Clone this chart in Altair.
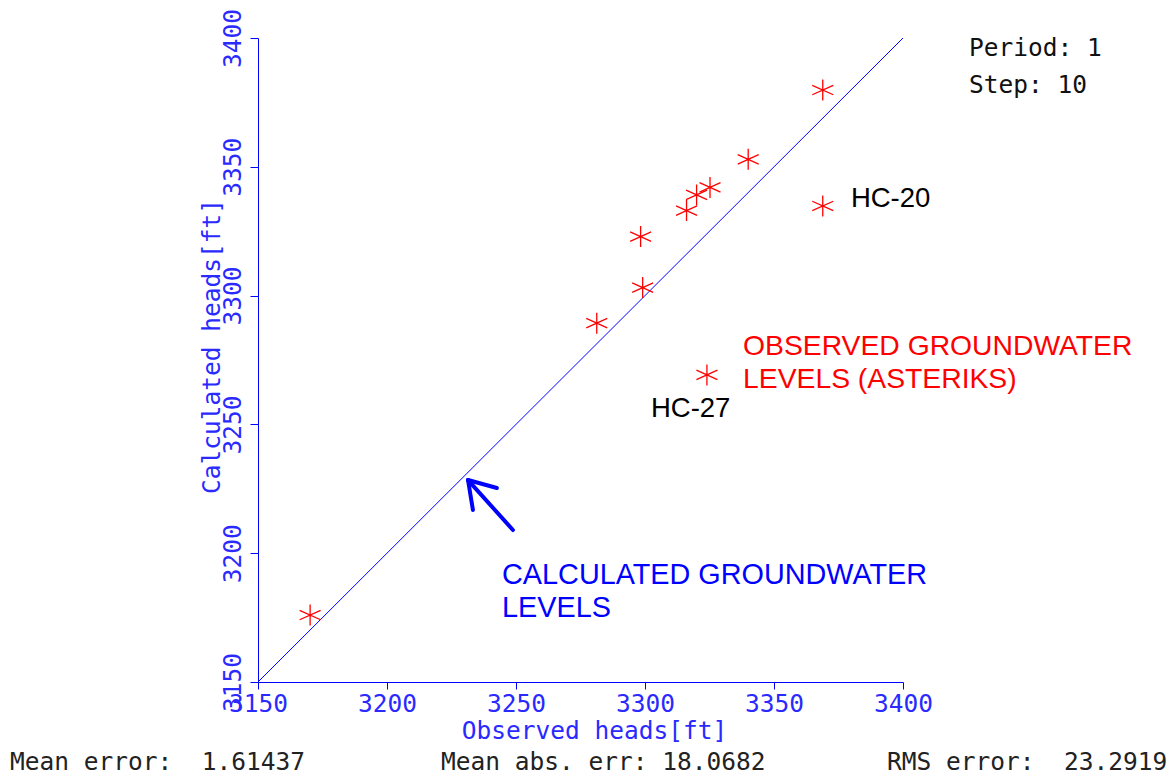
import altair as alt
import pandas as pd

# Observed vs calculated heads (ft)
obs_heads = [3170.2, 3281.3, 3298.3, 3299.1, 3316.1, 3320.0, 3325.2, 3340.0, 3368.9, 3368.9, 3324.0]
calc_heads = [3176.0, 3289.3, 3322.9, 3303.1, 3333.0, 3339.1, 3342.0, 3352.9, 3379.8, 3334.8, 3269.2]

tick_values = [3150, 3200, 3250, 3300, 3350, 3400]
line_ends = [3150, 3400]

NB = "\u00a0"
stat_texts = ["Mean error:" + NB + NB + "1.61437",
              "Mean abs." + NB + "err:" + NB + "18.0682",
              "RMS error:" + NB + NB + "23.2919"]
info_texts = ["Period:" + NB + "1", "Step:" + NB + "10"]

# annotation labels (data coordinates)
ann_text = ["HC-20", "HC-27"]
ann_x = [3379.8, 3302.3]
ann_y = [3337.5, 3256.0]

obs_caption = ["OBSERVED GROUNDWATER", "LEVELS (ASTERIKS)"]
obs_cap_x = [3338.0, 3338.0]
obs_cap_y = [3280.0, 3267.2]

calc_caption = ["CALCULATED GROUNDWATER", "LEVELS"]
calc_cap_x = [3244.6, 3244.6]
calc_cap_y = [3191.5, 3178.7]

arrow_x = [3248.8, 3231.4, 3231.4]
arrow_y = [3209.0, 3228.4, 3228.4]
arrow_x2 = [3231.4, 3242.6, 3233.3]
arrow_y2 = [3228.4, 3225.3, 3216.8]

MONO = "DejaVu Sans Mono"
SANS = "Liberation Sans"
BLUE = "#0000ff"
LBLUE = "#2a2aff"
MS = 24.5

W, H = 645, 644

xscale = alt.Scale(domain=[3150, 3400], nice=False, zero=False)
yscale = alt.Scale(domain=[3150, 3400], nice=False, zero=False)

xaxis = alt.Axis(
    values=tick_values, format="d", grid=False, title="Observed heads[ft]",
    domainColor=BLUE, tickColor=BLUE, tickSize=7, labelColor=LBLUE,
    labelFont=MONO, labelFontSize=MS, labelPadding=3, labelFlush=False,
    labelOverlap=False, titleFont=MONO, titleFontSize=MS, titleFontWeight="normal",
    titleColor=LBLUE, titleX=336, titleY=49, titleBaseline="middle", titleAlign="center",
)
yaxis = alt.Axis(
    values=tick_values, format="d", grid=False, title="Calculated heads[ft]",
    domainColor=BLUE, tickColor=BLUE, tickSize=8, labelColor=LBLUE,
    labelFont=MONO, labelFontSize=MS, labelPadding=5, labelFlush=False,
    labelOverlap=False, labelAngle=270, labelAlign="center", labelBaseline="bottom",
    titleFont=MONO, titleFontSize=MS, titleFontWeight="normal", titleColor=LBLUE,
    titleAngle=270, titleX=-46, titleY=308, titleBaseline="middle", titleAlign="center",
)

line_df = pd.DataFrame({"x": line_ends, "y": line_ends})
line = alt.Chart(line_df).mark_line(color=BLUE, strokeWidth=1).encode(
    x=alt.X("x:Q", scale=xscale, axis=xaxis),
    y=alt.Y("y:Q", scale=yscale, axis=yaxis),
)

pts_df = pd.DataFrame({"obs": obs_heads, "calc": calc_heads})
star = "M0,-1L0,1M-1,-0.45L1,0.45M-1,0.45L1,-0.45"
points = alt.Chart(pts_df).mark_point(
    shape=star, filled=False, color="#ff0000", strokeWidth=1.3, size=441, opacity=1
).encode(
    x=alt.X("obs:Q", scale=xscale),
    y=alt.Y("calc:Q", scale=yscale),
)

arrow_df = pd.DataFrame({"x": arrow_x, "y": arrow_y, "x2": arrow_x2, "y2": arrow_y2})
arrow = alt.Chart(arrow_df).mark_rule(color=BLUE, strokeWidth=4, strokeCap="round").encode(
    x=alt.X("x:Q", scale=xscale), y=alt.Y("y:Q", scale=yscale),
    x2="x2:Q", y2="y2:Q",
)

ann_df = pd.DataFrame({"t": ann_text, "x": ann_x, "y": ann_y})
ann = alt.Chart(ann_df).mark_text(
    font=SANS, fontSize=27.5, color="#000000", align="left", baseline="middle"
).encode(x=alt.X("x:Q", scale=xscale), y=alt.Y("y:Q", scale=yscale), text="t:N")

obs_df = pd.DataFrame({"t": obs_caption, "x": obs_cap_x, "y": obs_cap_y})
obs_cap = alt.Chart(obs_df).mark_text(
    font=SANS, fontSize=28.3, color="#ff0000", align="left", baseline="middle"
).encode(x=alt.X("x:Q", scale=xscale), y=alt.Y("y:Q", scale=yscale), text="t:N")

calc_df = pd.DataFrame({"t": calc_caption, "x": calc_cap_x, "y": calc_cap_y})
calc_cap = alt.Chart(calc_df).mark_text(
    font=SANS, fontSize=28.8, color=BLUE, align="left", baseline="middle"
).encode(x=alt.X("x:Q", scale=xscale), y=alt.Y("y:Q", scale=yscale), text="t:N")

one = pd.DataFrame({"a": [0]})

def px_text(s, px, py, color):
    return alt.Chart(one).mark_text(
        text=s, font=MONO, fontSize=MS, color=color, align="left", baseline="middle"
    ).encode(x=alt.value(px), y=alt.value(py))

texts = [
    px_text(info_texts[0], 711, 11, "#111111"),
    px_text(info_texts[1], 711, 48, "#111111"),
    px_text(stat_texts[0], -248, 725, "#222222"),
    px_text(stat_texts[1], 183, 725, "#222222"),
    px_text(stat_texts[2], 629, 725, "#222222"),
]

chart = alt.layer(line, points, arrow, ann, obs_cap, calc_cap, *texts).properties(
    width=W, height=H,
    autosize=alt.AutoSizeParams(type="none"),
    padding={"left": 258, "top": 38, "right": 266, "bottom": 95},
    background="white",
).configure_view(stroke=None)

chart.save("out.html", embed_options={"renderer": "svg", "actions": False})
